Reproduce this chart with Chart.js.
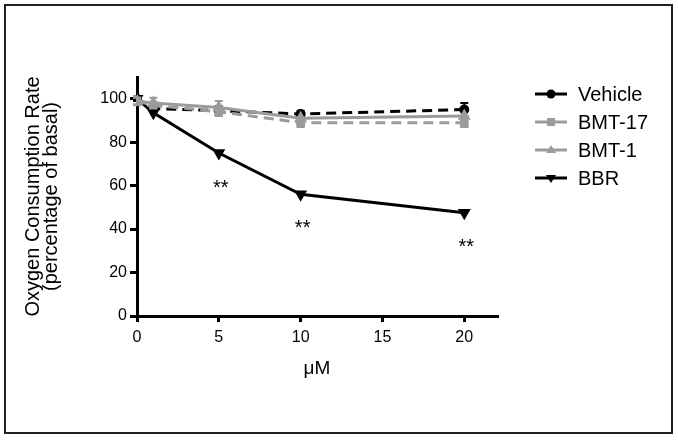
<!DOCTYPE html>
<html>
<head>
<meta charset="utf-8">
<script src="https://cdn.jsdelivr.net/npm/chart.js@4"></script>
<style>
  html, body { margin: 0; padding: 0; background: #fff; }
  #wrap { width: 678px; height: 440px; }
</style>
</head>
<body>
<div id="wrap"><canvas id="ocr" width="678" height="440"></canvas></div>
<script>
/* DATA */

const doses = [0, 1, 5, 10, 20];

const vehicle = [100, 95.5, 94.5, 93, 95];
const vehicleErr = [1, 1.5, 2, 1.5, 3];

const bmt17 = [99, 97, 94, 89, 89];
const bmt17Err = [1.5, 1.5, 2, 2, 2];

const bmt1 = [99, 98, 96, 91, 92];
const bmt1Err = [2, 2.5, 3, 3, 3];

const bbr = [100, 93.5, 75, 56, 47.5];

const starX = [5, 10, 20];
const starY = [61, 42.5, 34];

const gray = "#9b9b9b";

function pts(vals) {
  return doses.map((d, i) => ({ x: d, y: vals[i] }));
}

/* ERROR BARS + STARS + FRAME + LEGEND */

const extras = {
  id: "extras",

  beforeDatasetsDraw(chart) {
    const ctx = chart.ctx;
    const xs = chart.scales.x;
    const ys = chart.scales.y;
    const sets = [
      [vehicle, vehicleErr, "#000"],
      [bmt17, bmt17Err, gray],
      [bmt1, bmt1Err, gray]
    ];
    ctx.save();
    ctx.lineWidth = 2;
    sets.forEach(([vals, errs, color]) => {
      ctx.strokeStyle = color;
      doses.forEach((d, i) => {
        const px = xs.getPixelForValue(d);
        const top = ys.getPixelForValue(vals[i] + errs[i]);
        const bot = ys.getPixelForValue(vals[i] - errs[i]);
        ctx.beginPath();
        ctx.moveTo(px, top); ctx.lineTo(px, bot);
        ctx.moveTo(px - 4, top); ctx.lineTo(px + 4, top);
        ctx.moveTo(px - 4, bot); ctx.lineTo(px + 4, bot);
        ctx.stroke();
      });
    });
    ctx.restore();
  },

  afterDraw(chart) {
    const ctx = chart.ctx;
    const xs = chart.scales.x;
    const ys = chart.scales.y;
    ctx.save();

    /* asterisks */
    ctx.fillStyle = "#000";
    ctx.font = "20px 'Liberation Sans', Arial, sans-serif";
    ctx.textAlign = "center";
    ctx.textBaseline = "middle";
    starX.forEach((sx, i) => {
      ctx.fillText("**", xs.getPixelForValue(sx) + 2, ys.getPixelForValue(starY[i]) + 5);
    });

    /* legend */
    const items = chart.data.datasets;
    ctx.textAlign = "left";
    ctx.font = "20px 'Liberation Sans', Arial, sans-serif";
    items.forEach((ds, i) => {
      const y = 94 + i * 28;
      ctx.strokeStyle = ds.borderColor;
      ctx.lineWidth = 3;
      ctx.setLineDash([]);
      ctx.beginPath();
      ctx.moveTo(535, y); ctx.lineTo(567, y);
      ctx.stroke();
      ctx.fillStyle = ds.borderColor;
      const m = ds.legendMark;
      ctx.beginPath();
      if (m === "circle") {
        ctx.arc(551, y, 4.5, 0, Math.PI * 2);
      } else if (m === "rect") {
        ctx.rect(547, y - 4, 8, 8);
      } else if (m === "up") {
        ctx.moveTo(551, y - 5); ctx.lineTo(556, y + 3); ctx.lineTo(546, y + 3);
      } else {
        ctx.moveTo(551, y + 5); ctx.lineTo(556, y - 3); ctx.lineTo(546, y - 3);
      }
      ctx.fill();
      ctx.fillStyle = "#000";
      ctx.textBaseline = "middle";
      ctx.fillText(ds.label, 578, y + 1);
    });

    /* frame */
    ctx.strokeStyle = "#222";
    ctx.lineWidth = 2;
    ctx.strokeRect(5, 5, 667, 428);
    ctx.restore();
  }
};

/* CHART */

const fontFam = "'Liberation Sans', Arial, sans-serif";

new Chart(document.getElementById("ocr"), {
  type: "line",
  data: {
    datasets: [
      {
        label: "Vehicle",
        data: pts(vehicle),
        borderColor: "#000",
        backgroundColor: "#000",
        borderDash: [10, 6],
        borderWidth: 3,
        pointStyle: "circle",
        pointRadius: 3.5,
        order: 4,
        legendMark: "circle"
      },
      {
        label: "BMT-17",
        data: pts(bmt17),
        borderColor: gray,
        backgroundColor: gray,
        borderDash: [10, 6],
        borderWidth: 3,
        pointStyle: "rect",
        pointRadius: 4,
        order: 2,
        legendMark: "rect"
      },
      {
        label: "BMT-1",
        data: pts(bmt1),
        borderColor: gray,
        backgroundColor: gray,
        borderWidth: 3,
        pointStyle: "triangle",
        pointRadius: 4.5,
        order: 1,
        legendMark: "up"
      },
      {
        label: "BBR",
        data: pts(bbr),
        borderColor: "#000",
        backgroundColor: "#000",
        borderWidth: 3,
        pointStyle: "triangle",
        rotation: 180,
        pointRadius: 4.5,
        order: 3,
        legendMark: "down"
      }
    ]
  },
  options: {
    responsive: false,
    animation: false,
    layout: {
      padding: { top: 77, right: 181, bottom: 60, left: 24 }
    },
    plugins: {
      legend: { display: false },
      tooltip: { enabled: false }
    },
    scales: {
      x: {
        type: "linear",
        min: 0,
        max: 22,
        afterFit(s) { s.height = 64; },
        afterBuildTicks(s) {
          s.ticks = s.ticks.filter(t => t.value % 5 === 0);
        },
        ticks: {
          stepSize: 5,
          color: "#000",
          padding: 6,
          font: { family: fontFam, size: 16 }
        },
        grid: {
          drawOnChartArea: false,
          drawTicks: true,
          tickLength: 6,
          color: "#000",
          lineWidth: 3
        },
        border: { color: "#000", width: 3 },
        title: {
          display: true,
          text: "μM",
          color: "#000",
          padding: { top: 0, bottom: 0 },
          font: { family: fontFam, size: 19 }
        }
      },
      y: {
        min: 0,
        max: 110,
        afterFit(s) { s.width = 113; },
        afterBuildTicks(s) {
          s.ticks = s.ticks.filter(t => t.value % 20 === 0);
        },
        ticks: {
          stepSize: 20,
          color: "#000",
          padding: 3,
          font: { family: fontFam, size: 16 }
        },
        grid: {
          drawOnChartArea: false,
          drawTicks: true,
          tickLength: 7,
          color: "#000",
          lineWidth: 3
        },
        border: { color: "#000", width: 3 },
        title: {
          display: true,
          text: ["Oxygen Consumption Rate", "(percentage of basal)"],
          color: "#000",
          padding: { top: 0, bottom: 0 },
          font: { family: fontFam, size: 20, lineHeight: 0.9 }
        }
      }
    }
  },
  plugins: [extras]
});
</script>
</body>
</html>
